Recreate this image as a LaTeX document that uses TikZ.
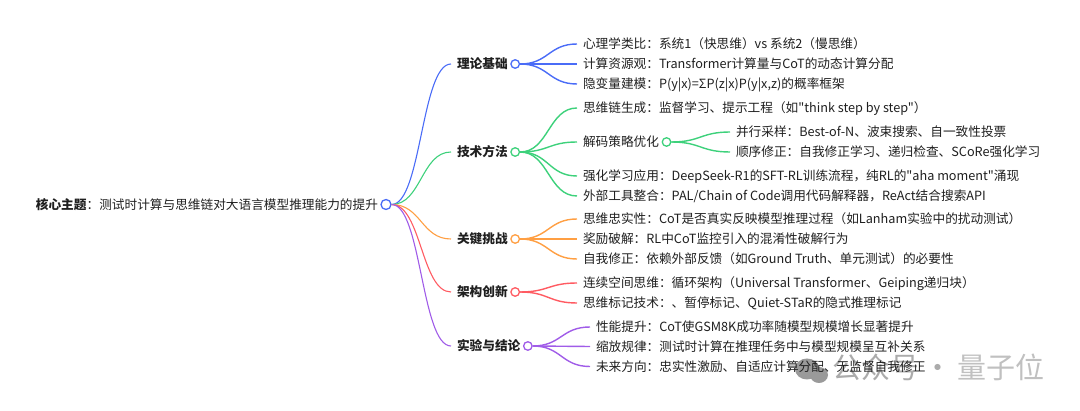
\documentclass[tikz,border=0pt]{standalone}
\usepackage{fontspec}
\setmainfont[Ligatures=TeXOff]{Noto Sans CJK SC}
\usetikzlibrary{
    calc, % for the horizontal bend of the links
    positioning % for placing nodes relative to other nodes
}
\definecolor{coreblue}{HTML}{4A6CF7}
\definecolor{linkgreen}{HTML}{3DD17B}
\definecolor{linkorange}{HTML}{FF9F43}
\definecolor{linkred}{HTML}{FF5B62}
\definecolor{linkpurple}{HTML}{A05CE8}
\definecolor{markgray}{HTML}{ABABAB}

\begin{document}
\begin{tikzpicture}[
    x=1pt,y=1pt,
    node distance=20pt,on grid,
    every node/.style = {inner sep=0pt,text=black!88,font=\fontsize{12.67pt}{14pt}\selectfont,text height=11.9pt,text depth=2.3pt},
    leaf/.style       = {anchor=west,outer xsep=6pt},
    topic/.style      = {leaf,font=\fontsize{12.67pt}{14pt}\selectfont\bfseries},
    knot/.style       = {circle,draw=#1,fill=white,line width=1.3pt,minimum size=8.5pt,text height=0pt,text depth=0pt},
    knot after/.style = {right=1.5pt of #1.east,anchor=center},
    link/.style       = {draw=#1,line width=1.4pt,to path={let \p1=(\tikztostart.east),\p2=(\tikztotarget.west) in
                         (\p1) .. controls ({(\x1+\x2)/2},\y1) and ({(\x1+\x2)/2},\y2) .. (\p2)}},
    mainlink/.style   = {link=#1,line width=1.1pt},
    stamp/.style      = {text=markgray,font=\fontsize{29pt}{32pt}\selectfont,text height=25pt,text depth=4pt}
]
    \path [use as bounding box] (0,0) rectangle (1080,-411);

% Watermark

    \fill [markgray!90!black] (807,-369) ellipse [x radius=12,y radius=10.5];
    \fill [markgray!90!black] (819,-375) ellipse [x radius=9,y radius=8];
    \node [stamp] (account) at (876,-368) {公众号};
    \node [stamp] (middot)  at (938,-368) {·};
    \node [stamp,text=markgray!75] (brand) at (1001,-368) {量子位};

% Core topic

    \node [knot=coreblue,minimum size=10pt] (coreknot) at (386,-204.5) {};
    \node [leaf] (core) [left=2pt of coreknot,anchor=east] {\textbf{核心主题}：测试时计算与思维链对大语言模型推理能力的提升};

% Theory

    \node [leaf] (psych)   at (577,-44)                   {心理学类比：系统1（快思维）vs 系统2（慢思维）};
    \node [leaf] (compute) [below=of psych.west,anchor=west]   {计算资源观：Transformer计算量与CoT的动态计算分配};
    \node [leaf] (latent)  [below=of compute.west,anchor=west] {隐变量建模：P(y|x)=ΣP(z|x)P(y|x,z)的概率框架};

    \node [topic] (theory) at (451,-64) {理论基础};
    \node [knot=coreblue] (theoryknot) [knot after=theory] {}
        edge [link=coreblue] (psych)
        edge [link=coreblue] (compute)
        edge [link=coreblue] (latent);

% Methods

    \node [leaf] (chain)    at (577,-108)  {思维链生成：监督学习、提示工程（如"think step by step"）};
    \node [leaf] (decode)   at (577,-142)  {解码策略优化};
    \node [leaf] (sampling) at (730,-132)  {并行采样：Best-of-N、波束搜索、自一致性投票};
    \node [leaf] (revision) [below=of sampling.west,anchor=west] {顺序修正：自我修正学习、递归检查、SCoRe强化学习};
    \node [leaf] (reinforce) at (577,-176) {强化学习应用：DeepSeek-R1的SFT-RL训练流程，纯RL的"aha moment"涌现};
    \node [leaf] (tooling)  [below=of reinforce.west,anchor=west] {外部工具整合：PAL/Chain of Code调用代码解释器，ReAct结合搜索API};

    \node [knot=linkgreen] (decodeknot) [knot after=decode] {}
        edge [link=linkgreen] (sampling)
        edge [link=linkgreen] (revision);

    \node [topic] (methods) at (451,-152) {技术方法};
    \node [knot=linkgreen] (methodsknot) [knot after=methods] {}
        edge [link=linkgreen] (chain)
        edge [link=linkgreen] (decode)
        edge [link=linkgreen] (reinforce)
        edge [link=linkgreen] (tooling);

% Challenges

    \node [leaf] (faith)   at (577,-219)                   {思维忠实性：CoT是否真实反映模型推理过程（如Lanham实验中的扰动测试）};
    \node [leaf] (reward)  [below=of faith.west,anchor=west]  {奖励破解：RL中CoT监控引入的混淆性破解行为};
    \node [leaf] (correct) [below=of reward.west,anchor=west] {自我修正：依赖外部反馈（如Ground Truth、单元测试）的必要性};

    \node [topic] (hurdles) at (451,-239) {关键挑战};
    \node [knot=linkorange] (hurdlesknot) [knot after=hurdles] {}
        edge [link=linkorange] (faith)
        edge [link=linkorange] (reward)
        edge [link=linkorange] (correct);

% Architecture

    \node [leaf] (space)  at (577,-283) {连续空间思维：循环架构（Universal Transformer、Geiping递归块）};
    \node [leaf] (tokens) [below=of space.west,anchor=west] {思维标记技术：、暂停标记、Quiet-STaR的隐式推理标记};

    \node [topic] (archi) at (451,-292) {架构创新};
    \node [knot=linkred] (archiknot) [knot after=archi] {}
        edge [link=linkred] (space)
        edge [link=linkred] (tokens);

% Experiments

    \node [leaf] (gain)    at (590,-327)                  {性能提升：CoT使GSM8K成功率随模型规模增长显著提升};
    \node [leaf] (scaling) [below=19.5pt of gain.west,anchor=west]  {缩放规律：测试时计算在推理任务中与模型规模呈互补关系};
    \node [leaf] (future)  [below=of scaling.west,anchor=west] {未来方向：忠实性激励、自适应计算分配、无监督自我修正};

    \node [topic] (results) at (451,-346) {实验与结论};
    \node [knot=linkpurple] (resultsknot) [knot after=results] {}
        edge [link=linkpurple] (gain)
        edge [link=linkpurple] (scaling)
        edge [link=linkpurple] (future);

% Links from the core

    \path (coreknot) edge [mainlink=coreblue]   (theory)
                     edge [mainlink=linkgreen]  (methods)
                     edge [mainlink=linkorange] (hurdles)
                     edge [mainlink=linkred]    (archi)
                     edge [mainlink=linkpurple] (results);

\end{tikzpicture}
\end{document}
